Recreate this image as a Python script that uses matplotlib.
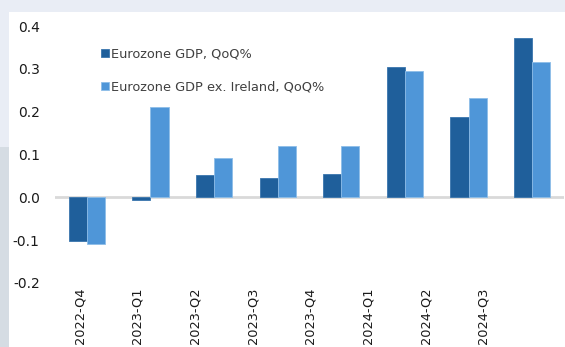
import matplotlib.pyplot as plt
from matplotlib.patches import Rectangle
import numpy as np

quarters = ["2022-Q4", "2023-Q1", "2023-Q2", "2023-Q3",
            "2023-Q4", "2024-Q1", "2024-Q2", "2024-Q3"]
gdp = [-0.103, -0.007, 0.051, 0.046, 0.055, 0.304, 0.187, 0.373]
gdp_ex_ie = [-0.109, 0.211, 0.092, 0.120, 0.119, 0.294, 0.232, 0.317]
yticks = [-0.2, -0.1, 0.0, 0.1, 0.2, 0.3, 0.4]

W, H = 565, 347
fig = plt.figure(figsize=(W / 100, H / 100), dpi=100)
fig.patch.set_facecolor("white")

# screenshot frame bits
fig.patches.append(Rectangle((0, 1 - 12 / H), 1, 12 / H, transform=fig.transFigure,
                             facecolor="#e9edf5", edgecolor="none", zorder=0))
fig.patches.append(Rectangle((0, 1 - 147 / H), 9 / W, 147 / H, transform=fig.transFigure,
                             facecolor="#e9edf5", edgecolor="none", zorder=0))
fig.patches.append(Rectangle((0, 0), 9 / W, 1 - 147 / H, transform=fig.transFigure,
                             facecolor="#d5dce3", edgecolor="none", zorder=0))

ax = fig.add_axes([55 / W, 1 - 283 / H, 509 / W, 257 / H])
ax.set_facecolor("none")

x = np.arange(len(quarters))
bw = 0.285
ax.bar(x - bw / 2, gdp, bw, color="#1f5f9b", edgecolor="#3a75ad", linewidth=0.6,
       label="Eurozone GDP, QoQ%", zorder=3)
ax.bar(x + bw / 2, gdp_ex_ie, bw, color="#4f96d8", edgecolor="#8dbde8", linewidth=0.6,
       label="Eurozone GDP ex. Ireland, QoQ%", zorder=3)

ax.axhline(0, color="#d9d9d9", linewidth=2, zorder=2)
ax.set_xlim(-0.5, len(quarters) - 0.5)
ax.set_ylim(-0.2, 0.4)
for s in ax.spines.values():
    s.set_visible(False)

ax.set_yticks(yticks)
ax.set_yticklabels(["%.1f" % v for v in yticks])
# category labels sit slightly off the bar groups in the original
ax.set_xticks(x * 0.906 - 0.11)
ax.set_xticklabels(quarters, rotation=90)
ax.tick_params(axis="y", length=0, pad=11, labelsize=10, labelcolor="#1a1a1a")
ax.tick_params(axis="x", length=0, pad=3, labelsize=9.3, labelcolor="#1a1a1a")

leg = ax.legend(loc="upper left", bbox_to_anchor=(0.08, 0.935), frameon=False,
                fontsize=9.3, labelspacing=1.55, handlelength=0.6, handleheight=0.6,
                handletextpad=0.2, borderaxespad=0)
for t in leg.get_texts():
    t.set_color("#404040")

fig.savefig("out.png", dpi=100)
